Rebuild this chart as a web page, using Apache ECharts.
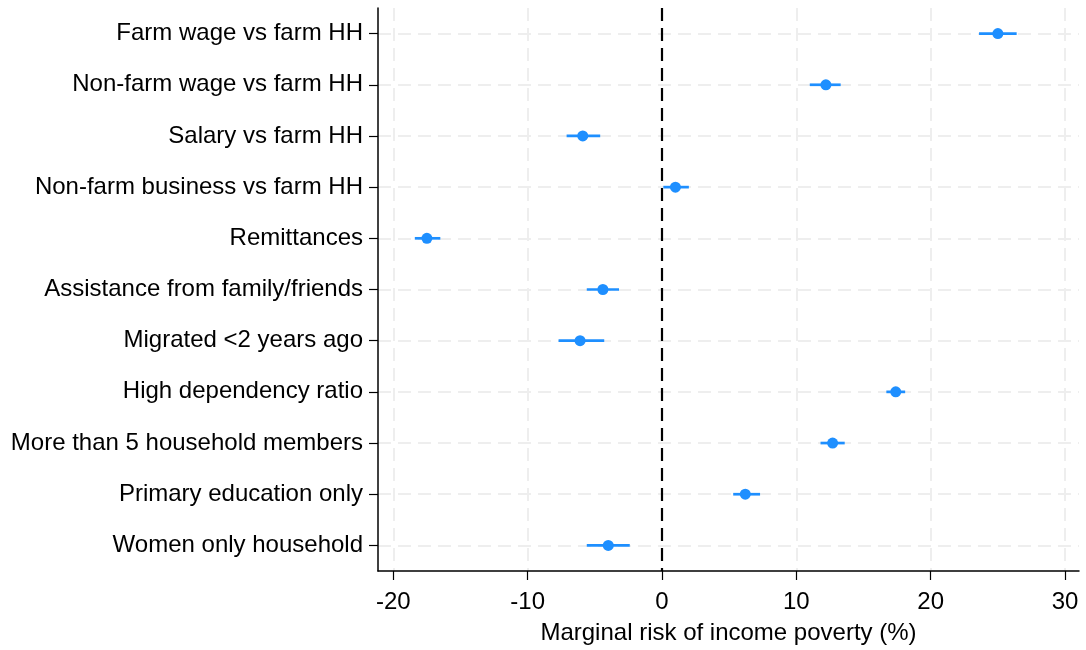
<!DOCTYPE html>
<html>
<head>
<meta charset="utf-8">
<script src="https://cdn.jsdelivr.net/npm/echarts@6/dist/echarts.min.js"></script>
<style>html,body{margin:0;padding:0;background:#fff}#chart{width:1086px;height:650px}</style>
</head>
<body>
<div id="chart"></div>
<script>
var categories = [
  'Farm wage vs farm HH',
  'Non-farm wage vs farm HH',
  'Salary vs farm HH',
  'Non-farm business vs farm HH',
  'Remittances',
  'Assistance from family/friends',
  'Migrated <2 years ago',
  'High dependency ratio',
  'More than 5 household members',
  'Primary education only',
  'Women only household'
];
var estimates = [25.0, 12.2, -5.9, 1.0, -17.5, -4.4, -6.1, 17.4, 12.7, 6.2, -4.0];
var ciLow     = [23.6, 11.0, -7.1, 0.1, -18.4, -5.6, -7.7, 16.7, 11.8, 5.3, -5.6];
var ciHigh    = [26.4, 13.3, -4.6, 2.0, -16.5, -3.2, -4.3, 18.1, 13.6, 7.3, -2.4];
var xTicks = [-20, -10, 0, 10, 20, 30];

var font = '"Liberation Sans", Arial, sans-serif';
var blue = '#1e8fff';

var ciData = categories.map(function (c, i) { return [ciLow[i], ciHigh[i], i]; });
var ptData = categories.map(function (c, i) { return [estimates[i], i]; });

var chart = echarts.init(document.getElementById('chart'));
chart.setOption({
  animation: false,
  backgroundColor: '#fff',
  grid: { left: 378, right: 7, top: 8, bottom: 77, containLabel: false },
  xAxis: {
    type: 'value',
    min: -21.14,
    max: 31.04,
    interval: 10,
    axisLine: { show: true, onZero: false, lineStyle: { color: '#000', width: 1.5 } },
    axisTick: { show: true, length: 9, lineStyle: { color: '#000', width: 1.2 }, customValues: xTicks },
    axisLabel: { color: '#000', fontSize: 24, fontFamily: font, margin: 19, customValues: xTicks },
    splitLine: { show: true, lineStyle: { color: '#eeeeee', width: 2, type: [13, 7] }, customValues: xTicks },
    name: 'Marginal risk of income poverty (%)',
    nameLocation: 'middle',
    nameGap: 50,
    nameTextStyle: { color: '#000', fontSize: 24, fontFamily: font }
  },
  yAxis: {
    type: 'category',
    data: categories,
    inverse: true,
    boundaryGap: true,
    axisLine: { show: true, onZero: false, lineStyle: { color: '#000', width: 1.5 } },
    axisTick: { show: true, alignWithLabel: true, length: 9, lineStyle: { color: '#000', width: 1.2 } },
    axisLabel: { color: '#000', fontSize: 24, fontFamily: font, margin: 15 },
    splitLine: { show: true, alignWithLabel: true, lineStyle: { color: '#eeeeee', width: 2, type: [13, 7] } }
  },
  series: [
    {
      type: 'custom',
      data: ciData,
      z: 3,
      renderItem: function (params, api) {
        var y = api.value(2);
        var p1 = api.coord([api.value(0), y]);
        var p2 = api.coord([api.value(1), y]);
        return {
          type: 'line',
          shape: { x1: p1[0], y1: p1[1], x2: p2[0], y2: p2[1] },
          style: { stroke: blue, lineWidth: 2.7 }
        };
      },
      encode: { x: [0, 1], y: 2 },
      silent: true
    },
    {
      type: 'scatter',
      data: ptData,
      symbol: 'circle',
      symbolSize: 11,
      itemStyle: { color: blue, opacity: 1 },
      z: 4,
      markLine: {
        silent: true,
        symbol: 'none',
        label: { show: false },
        lineStyle: { color: '#000', width: 2.2, type: [13, 7] },
        data: [{ xAxis: 0 }],
        z: 2
      }
    }
  ]
});
</script>
</body>
</html>
